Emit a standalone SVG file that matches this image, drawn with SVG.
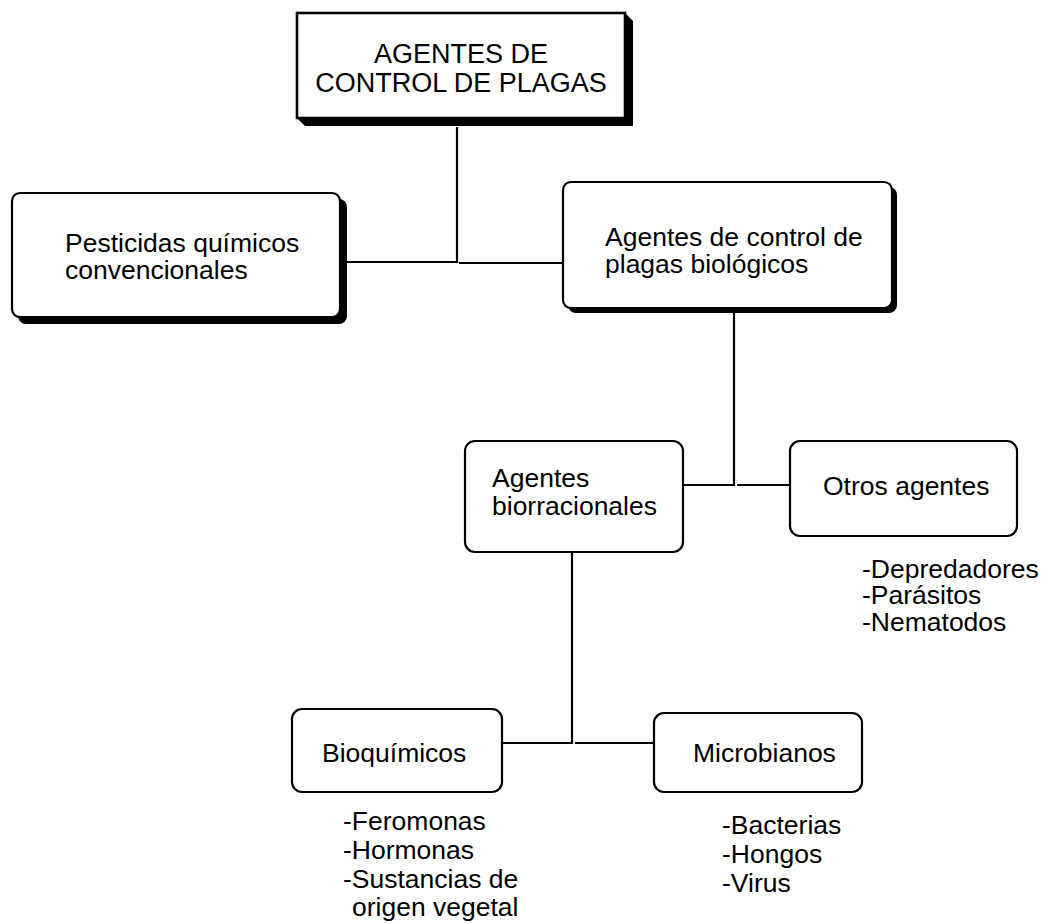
<svg xmlns="http://www.w3.org/2000/svg" width="1046" height="924" viewBox="0 0 1046 924">
  <style>
    .box { fill: #ffffff; stroke: #000000; stroke-width: 2.2; }
    .shadow { fill: #000000; stroke: none; }
    .t { font-family: "Liberation Sans", Arial, sans-serif; font-size: 26.5px; fill: #000000; }
    .c { text-anchor: middle; }
    .ln { fill: none; stroke: #000000; stroke-width: 2.2; }
  </style>
  <rect width="1046" height="924" fill="#ffffff"/>

  <g id="connectors">
    <path class="ln" d="M457,127 V263"/>
    <path class="ln" d="M347,262 H457"/>
    <path class="ln" d="M459,263 H563"/>
    <path class="ln" d="M734,313 V486"/>
    <path class="ln" d="M683,485 H734"/>
    <path class="ln" d="M737,485 H790"/>
    <path class="ln" d="M572,552 V744"/>
    <path class="ln" d="M502,743 H572"/>
    <path class="ln" d="M575,743 H654"/>
  </g>

  <g id="node-agentes-control">
    <polygon class="shadow" points="625,13 633,21 633,126 305,126 297,118 625,118"/>
    <rect class="box" x="297" y="13" width="328" height="105" style="stroke-width:2.6"/>
    <text class="t c" x="461" y="63" style="font-size:27px">AGENTES DE</text>
    <text class="t c" x="461" y="92" style="font-size:27px">CONTROL DE PLAGAS</text>
  </g>

  <g id="node-pesticidas">
    <rect class="shadow" x="18" y="199" width="329" height="125" rx="8"/>
    <rect class="box" x="12" y="193" width="328" height="124" rx="8"/>
    <text class="t" x="65" y="252">Pesticidas químicos</text>
    <text class="t" x="65" y="279">convencionales</text>
  </g>

  <g id="node-biologicos">
    <rect class="shadow" x="568" y="187" width="329" height="126" rx="8"/>
    <rect class="box" x="563" y="182" width="329" height="126" rx="8"/>
    <text class="t" x="605" y="246">Agentes de control de</text>
    <text class="t" x="605" y="273">plagas biológicos</text>
  </g>

  <g id="node-biorracionales">
    <rect class="box" x="465" y="441" width="218" height="111" rx="10"/>
    <text class="t" x="492" y="487">Agentes</text>
    <text class="t" x="492" y="515">biorracionales</text>
  </g>

  <g id="node-otros">
    <rect class="box" x="790" y="441" width="227" height="95" rx="10"/>
    <text class="t" x="823" y="495">Otros agentes</text>
    <text class="t" x="862" y="578">-Depredadores</text>
    <text class="t" x="862" y="604">-Parásitos</text>
    <text class="t" x="862" y="631">-Nematodos</text>
  </g>

  <g id="node-bioquimicos">
    <rect class="box" x="292" y="709" width="210" height="83" rx="10"/>
    <text class="t" x="322" y="762">Bioquímicos</text>
    <text class="t" x="343" y="830">-Feromonas</text>
    <text class="t" x="343" y="859">-Hormonas</text>
    <text class="t" x="343" y="888">-Sustancias de</text>
    <text class="t" x="352" y="916">origen vegetal</text>
  </g>

  <g id="node-microbianos">
    <rect class="box" x="654" y="713" width="208" height="79" rx="10"/>
    <text class="t" x="693" y="762">Microbianos</text>
    <text class="t" x="722" y="834">-Bacterias</text>
    <text class="t" x="722" y="863">-Hongos</text>
    <text class="t" x="722" y="892">-Virus</text>
  </g>
</svg>
